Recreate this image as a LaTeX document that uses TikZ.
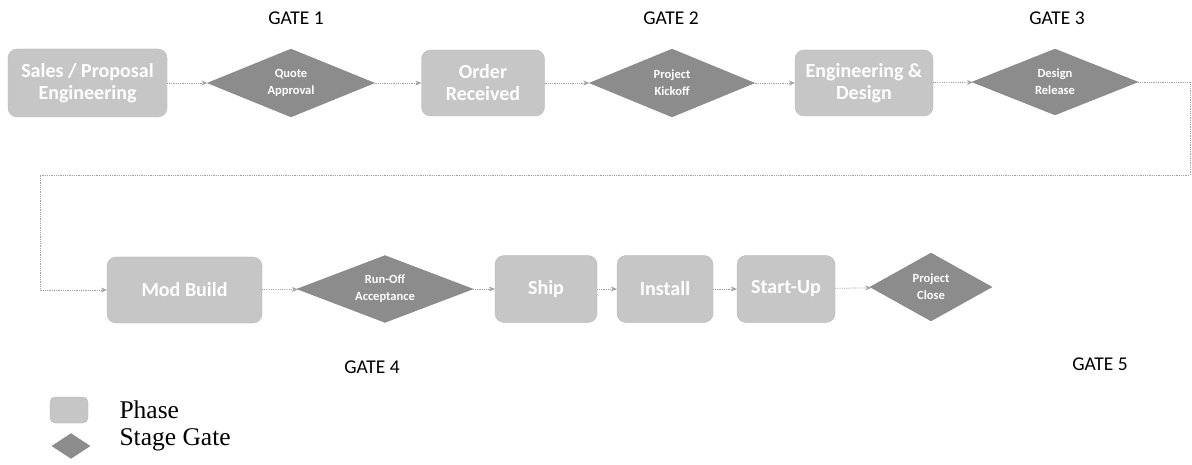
\documentclass[tikz,border=0pt]{standalone}
\usepackage{fontspec}
\setmainfont{Liberation Serif}
\newfontfamily\boxfont{Carlito}
\usetikzlibrary{shapes.geometric,arrows.meta}
\definecolor{phasegray}{HTML}{C6C6C6}
\definecolor{gategray}{HTML}{8C8C8C}
\definecolor{linegray}{HTML}{A0A0A0}
\tikzset{
  phase/.style={draw=phasegray!90!black, line width=0.3pt, fill=phasegray, rounded corners=9pt, text=white,
    font=\boxfont\fontsize{20}{22}\selectfont\bfseries, align=center, inner sep=0pt},
  gate/.style={diamond, aspect=2.5, draw=gategray!90!black, line width=0.3pt, fill=gategray, text=white,
    font=\boxfont\fontsize{12.5}{17}\selectfont\bfseries, align=center, inner sep=0pt},
  gatelabel/.style={font=\boxfont\fontsize{19.5}{21}\selectfont, text=black},
  conn/.style={draw=linegray, densely dotted, line width=0.8pt, -{Stealth[open,length=6pt,width=5pt]}},
  legendtext/.style={font=\fontsize{25.5}{27}\selectfont, anchor=west, text=black}
}
\begin{document}
\begin{tikzpicture}[x=1pt,y=-1pt]
\useasboundingbox (0,0) rectangle (1192,465);
% top row
\node[phase, minimum width=159pt, minimum height=68pt] (s1) at (87.5,83) {Sales / Proposal\\Engineering};
\node[gate, minimum width=167pt, minimum height=68pt] (g1) at (291,83) {Quote\\Approval};
\node[phase, minimum width=123pt, minimum height=66pt] (s2) at (483,83) {Order\\Received};
\node[gate, minimum width=165pt, minimum height=68pt] (g2) at (672,83) {Project\\Kickoff};
\node[phase, minimum width=138pt, minimum height=66pt] (s3) at (864,83) {Engineering \&\\Design};
\node[gate, minimum width=166pt, minimum height=66pt] (g3) at (1055,82) {Design\\Release};
% bottom row
\node[phase, minimum width=155pt, minimum height=66pt] (s4) at (184.5,290) {Mod Build};
\node[gate, minimum width=176pt, minimum height=67pt] (g4) at (385,289) {Run-Off\\Acceptance};
\node[phase, minimum width=102pt, minimum height=67pt] (s5) at (546,289) {Ship};
\node[phase, minimum width=96pt, minimum height=67pt] (s6) at (665,289) {Install};
\node[phase, minimum width=98pt, minimum height=67pt] (s7) at (786,289) {Start-Up};
\node[gate, minimum width=122pt, minimum height=68pt] (g5) at (931,287) {Project\\Close};
% gate labels
\node[gatelabel] (l1) at (296,18) {GATE 1};
\node[gatelabel] (l2) at (671,18) {GATE 2};
\node[gatelabel] (l3) at (1057,18) {GATE 3};
\node[gatelabel] (l4) at (372,367) {GATE 4};
\node[gatelabel] (l5) at (1100,364) {GATE 5};
% connectors
\draw[conn] (s1) -- (g1);
\draw[conn] (g1) -- (s2);
\draw[conn] (s2) -- (g2);
\draw[conn] (g2) -- (s3);
\draw[conn] (s3) -- (g3);
\coordinate (c1) at (1190,82);
\coordinate (c2) at (1190,175);
\coordinate (c3) at (40,175);
\coordinate (c4) at (40,290);
\draw[conn] (g3.east) -- (c1) -- (c2) -- (c3) -- (c4) -- (s4.west);
\draw[conn] (s4) -- (g4);
\draw[conn] (g4) -- (s5);
\draw[conn] (s5) -- (s6);
\draw[conn] (s6) -- (s7);
\draw[conn] (s7) -- (g5);
% legend
\node[phase, minimum width=38pt, minimum height=26pt, rounded corners=5pt] (lp) at (69,410) {};
\node[gate, aspect=1.5, minimum width=38pt, minimum height=25pt] (lg) at (71,446) {};
\node[legendtext] (tp) at (116,410) {Phase};
\node[legendtext] (tg) at (116,440) {Stage Gate};
\end{tikzpicture}
\end{document}
